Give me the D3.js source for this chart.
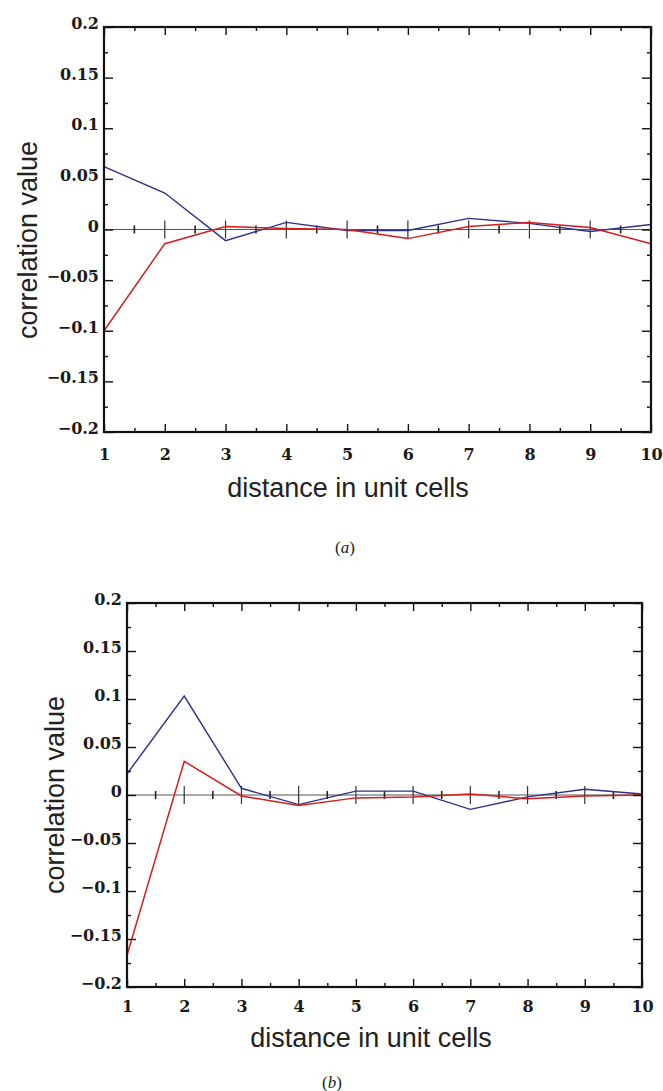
<!DOCTYPE html>
<html>
<head>
<meta charset="utf-8">
<script src="https://cdn.jsdelivr.net/npm/d3@7"></script>
<style>
  body { margin: 0; background: #fff; }
  svg { display: block; }
</style>
</head>
<body>
<div id="chartContainer"></div>
<script>
// x positions and tick values
const distance = [1, 2, 3, 4, 5, 6, 7, 8, 9, 10];
const xMinorTicks = [1.5, 2.5, 3.5, 4.5, 5.5, 6.5, 7.5, 8.5, 9.5];
const yMajorTicks = [-0.2, -0.15, -0.1, -0.05, 0, 0.05, 0.1, 0.15, 0.2];
const yMinorTicks = [-0.175, -0.125, -0.075, -0.025, 0.025, 0.075, 0.125, 0.175];

// panel (a)
const blueA = [0.062, 0.036, -0.011, 0.007, -0.001, -0.001, 0.011, 0.006, -0.002, 0.005];
const redA = [-0.100, -0.014, 0.003, 0.001, 0.000, -0.009, 0.003, 0.007, 0.002, -0.014];

// panel (b)
const blueB = [0.022, 0.103, 0.007, -0.010, 0.004, 0.004, -0.015, -0.002, 0.006, 0.001];
const redB = [-0.167, 0.035, -0.001, -0.011, -0.003, -0.002, 0.001, -0.004, -0.001, 0.000];

document.addEventListener("DOMContentLoaded", () => {
    const w = 663, h = 1091;
    const blueColor = "#2e3088", redColor = "#d41e1e";
    const tickFont = "'DejaVu Serif', 'Liberation Serif', serif";

    const svg = d3.select("#chartContainer")
        .append("svg")
        .attr("width", w)
        .attr("height", h);

    const fmt = v => String(v).replace("-", "\u2212");

    const drawPanel = (p) => {
        const x = d3.scaleLinear().domain([1, 10]).range([p.left, p.right]);
        const y = d3.scaleLinear().domain([-0.2, 0.2]).range([p.bottom, p.top]);
        const g = svg.append("g");

        // zero line with crossing ticks
        g.append("line")
            .attr("x1", p.left).attr("x2", p.right)
            .attr("y1", y(0)).attr("y2", y(0))
            .attr("stroke", "#555").attr("stroke-width", 1);
        g.selectAll(".zmaj").data(distance).enter().append("line")
            .attr("x1", d => x(d)).attr("x2", d => x(d))
            .attr("y1", y(0) - 9).attr("y2", y(0) + 9)
            .attr("stroke", "#333").attr("stroke-width", 1.2);
        g.selectAll(".zmin").data(xMinorTicks).enter().append("line")
            .attr("x1", d => x(d)).attr("x2", d => x(d))
            .attr("y1", y(0) - 4).attr("y2", y(0) + 4)
            .attr("stroke", "#222").attr("stroke-width", 1.6);

        // data lines
        const line = d3.line().x((d, i) => x(distance[i])).y(d => y(d));
        g.append("path").datum(p.blue)
            .attr("d", line).attr("fill", "none")
            .attr("stroke", blueColor).attr("stroke-width", 1.4);
        g.append("path").datum(p.red)
            .attr("d", line).attr("fill", "none")
            .attr("stroke", redColor).attr("stroke-width", 1.5);

        // axes, ticks pointing inwards
        const axes = [
            [d3.axisBottom(x).tickValues(distance).tickSizeInner(-8), `translate(0,${p.bottom})`],
            [d3.axisBottom(x).tickValues(xMinorTicks).tickSizeInner(-4).tickFormat(""), `translate(0,${p.bottom})`],
            [d3.axisTop(x).tickValues(distance).tickSizeInner(-8).tickFormat(""), `translate(0,${p.top})`],
            [d3.axisTop(x).tickValues(xMinorTicks).tickSizeInner(-4).tickFormat(""), `translate(0,${p.top})`],
            [d3.axisLeft(y).tickValues(yMajorTicks).tickSizeInner(-9).tickFormat(fmt), `translate(${p.left},0)`],
            [d3.axisLeft(y).tickValues(yMinorTicks).tickSizeInner(-4).tickFormat(""), `translate(${p.left},0)`],
            [d3.axisRight(y).tickValues(yMajorTicks).tickSizeInner(-9).tickFormat(""), `translate(${p.right},0)`],
            [d3.axisRight(y).tickValues(yMinorTicks).tickSizeInner(-4).tickFormat(""), `translate(${p.right},0)`]
        ];
        axes.forEach(([axis, tr]) => {
            const a = g.append("g")
                .attr("transform", tr)
                .attr("font-family", tickFont)
                .call(axis.tickSizeOuter(0));
            a.select(".domain").remove();
            a.attr("font-family", tickFont).attr("font-size", 16).attr("font-weight", "bold");
            a.selectAll("line").attr("stroke", "#111").attr("stroke-width", 1.4);
            a.selectAll("text").attr("fill", "#1a1a1a");
        });

        // x tick labels position
        g.selectAll("g text").filter(function () {
            return this.parentNode.parentNode.getAttribute("transform") === `translate(0,${p.bottom})`;
        }).attr("y", p.tickLabelY - p.bottom).attr("dy", 0);

        // y tick labels position
        g.selectAll("g text").filter(function () {
            return this.parentNode.parentNode.getAttribute("transform") === `translate(${p.left},0)`;
        }).attr("x", -5).attr("dy", "0.1em");

        // frame
        g.append("rect")
            .attr("x", p.left).attr("y", p.top)
            .attr("width", p.right - p.left).attr("height", p.bottom - p.top)
            .attr("fill", "none").attr("stroke", "#111").attr("stroke-width", 2.2);

        // axis titles
        g.append("text")
            .attr("x", p.xTitleX).attr("y", p.xTitleY)
            .attr("text-anchor", "middle")
            .attr("font-family", "'Liberation Sans', Arial, sans-serif")
            .attr("font-size", 27)
            .attr("fill", "#222")
            .text("distance in unit cells");

        g.append("text")
            .attr("transform", `translate(${p.yTitleX},${p.yTitleY}) rotate(-90)`)
            .attr("text-anchor", "middle")
            .attr("font-family", "'Liberation Sans', Arial, sans-serif")
            .attr("font-size", 27)
            .attr("fill", "#222")
            .text("correlation value");

        // caption
        const cap = g.append("text")
            .attr("x", p.captionX).attr("y", p.captionY)
            .attr("text-anchor", "middle")
            .attr("font-family", "'Liberation Serif', serif")
            .attr("font-size", 17)
            .attr("fill", "#222");
        cap.append("tspan").text("(");
        cap.append("tspan").attr("font-style", "italic").text(p.caption);
        cap.append("tspan").text(")");
    };

    drawPanel({
        left: 104, right: 651, top: 27, bottom: 432,
        blue: blueA, red: redA,
        tickLabelY: 460, xTitleX: 348, xTitleY: 497,
        yTitleX: 37, yTitleY: 240,
        caption: "a", captionX: 345, captionY: 553
    });

    drawPanel({
        left: 127, right: 642, top: 603, bottom: 987,
        blue: blueB, red: redB,
        tickLabelY: 1012, xTitleX: 371, xTitleY: 1047,
        yTitleX: 64, yTitleY: 795,
        caption: "b", captionX: 332, captionY: 1088
    });
});
</script>
</body>
</html>
